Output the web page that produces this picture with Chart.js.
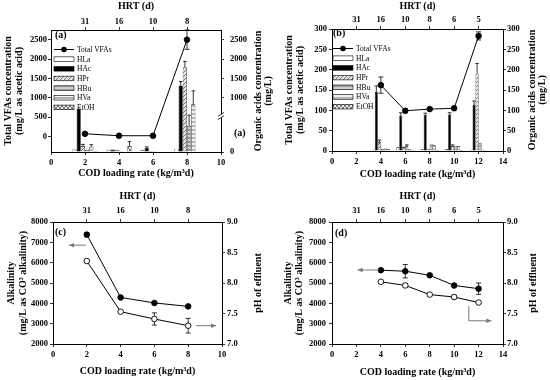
<!DOCTYPE html>
<html>
<head>
<meta charset="utf-8">
<script src="https://cdn.jsdelivr.net/npm/chart.js@4.4.1/dist/chart.umd.min.js"></script>
<style>
    html, body { margin: 0; padding: 0; background: #fff; }
    #fig { position: relative; width: 550px; height: 380px; }
    #fig canvas { position: absolute; }
</style>
</head>
<body>
<div id="fig">
    <canvas id="chartA" width="275" height="190" style="left:0;top:0"></canvas>
    <canvas id="chartB" width="275" height="190" style="left:275px;top:0"></canvas>
    <canvas id="chartC" width="275" height="190" style="left:0;top:190px"></canvas>
    <canvas id="chartD" width="275" height="190" style="left:275px;top:190px"></canvas>
</div>
<script>
// ── Data ──────────────────────────────────────────────────────────────────────

const COD_A = [2, 4, 6, 8];
const COD_B = [4, 6, 8, 10, 12];

const HRT_POS_A = [2, 4, 6, 8];
const HRT_A     = ["31", "16", "10", "8"];
const HRT_POS_B = [2, 4, 6, 8, 10, 12];
const HRT_B     = ["31", "16", "10", "8", "6", "5"];

const BAR_NAMES = ["HLa", "HAc", "HPr", "HBu", "HVa", "EtOH"];

// (a) total VFAs (left axis) and organic acids (broken right axis), mg/L
const VFA_A      = [70, 20, 20, 2500];
const VFA_A_ERR  = [0, 0, 0, 250];
const HLA_A      = [45, 40, 30, 60];
const HAC_A      = [800, 45, 75, 1320];
const HAC_A_ERR  = [0, 0, 20, 100];
const HPR_A      = [110, 40, 20, 1780];
const HPR_A_ERR  = [30, 0, 0, 160];
const HBU_A      = [40, 15, 15, 480];
const HBU_A_ERR  = [0, 0, 0, 200];
const HVA_A      = [95, 10, 10, 880];
const HVA_A_ERR  = [40, 0, 0, 300];
const ETOH_A     = [20, 110, 10, 10];
const ETOH_A_ERR = [0, 80, 0, 0];

// (b)
const VFA_B      = [162, 99, 103, 105, 283];
const VFA_B_ERR  = [20, 5, 3, 3, 10];
const HLA_B      = [3, 9, 4, 4, 3];
const HAC_B      = [145, 87, 89, 90, 113];
const HAC_B_ERR  = [15, 7, 4, 4, 10];
const HPR_B      = [22, 7, 5, 12, 190];
const HPR_B_ERR  = [5, 2, 0, 3, 25];
const HBU_B      = [5, 12, 18, 13, 20];
const HBU_B_ERR  = [0, 3, 0, 0, 0];
const HVA_B      = [6, 5, 14, 12, 3];
const ETOH_B     = [4, 3, 3, 3, 2];

// (c) alkalinity (mg/L) and effluent pH
const ALK_C     = [7380, 4290, 4020, 3850];
const ALK_C_ERR = [100, 60, 40, 60];
const PH_C      = [8.36, 7.53, 7.41, 7.30];
const PH_C_ERR  = [0.02, 0.02, 0.1, 0.12];

// (d)
const ALK_D     = [5630, 5580, 5380, 4880, 4720];
const ALK_D_ERR = [60, 330, 60, 60, 280];
const PH_D      = [8.02, 7.96, 7.81, 7.77, 7.68];
const PH_D_ERR  = [0.02, 0.03, 0.02, 0.03, 0.02];

// Tick values
const TICKS_X_A   = [0, 2, 4, 6, 8, 10];
const TICKS_X_B   = [0, 2, 4, 6, 8, 10, 12, 14];
const TICKS_VFA_A = [0, 500, 1000, 1500, 2000, 2500];
const TICKS_ORG_A = [0, 1000, 1500, 2000, 2500];
const TICKS_VFA_B = [0, 50, 100, 150, 200, 250, 300];
const TICKS_ALK   = [2000, 3000, 4000, 5000, 6000, 7000, 8000];
const TICKS_PH    = [7.0, 7.5, 8.0, 8.5, 9.0];

;(function () {

    // ── Constants ─────────────────────────────────────────────────────────────

    const SERIF      = "'Liberation Serif', 'Times New Roman', serif";
    const TICK_FONT  = { family: SERIF, size: 8.5, weight: "bold", lineHeight: 1.2 };
    const TITLE_FONT = { family: SERIF, size: 10, weight: "bold", lineHeight: 1.15 };
    const X_TITLE    = "COD loading rate (kg/m³d)";

    Chart.defaults.font.family = SERIF;
    Chart.defaults.color = "#000";

    // right axis of (a) is broken at 1000: compressed below, 1:1 with left axis above
    function brk(v) {
        return v >= 1000 ? v + 400 : 1.4 * v;
    }

    function hatch(bg, draw) {
        const c = document.createElement("canvas");
        c.width = c.height = 4;
        const g = c.getContext("2d");
        g.fillStyle = bg;
        g.fillRect(0, 0, 4, 4);
        g.strokeStyle = "#444";
        g.lineWidth = 0.7;
        g.beginPath();
        draw(g);
        g.stroke();
        return g.createPattern(c, "repeat");
    }

    const DIAG  = g => { g.moveTo(0, 4); g.lineTo(4, 0); };
    const HORIZ = g => { g.moveTo(0, 2); g.lineTo(4, 2); };
    const CROSS = g => { g.moveTo(0, 4); g.lineTo(4, 0); g.moveTo(0, 0); g.lineTo(4, 4); };

    const BAR_FILL = [
        "#ffffff",
        "#000000",
        hatch("#e6e6e6", DIAG),
        hatch("#cfcfcf", HORIZ),
        hatch("#f2f2f2", HORIZ),
        hatch("#ececec", CROSS)
    ];

    function getEl(id) {
        return document.getElementById(id);
    }

    function fontStr(f) {
        return `${f.weight || "normal"} ${f.size}px ${f.family}`;
    }

    // ── Scales ────────────────────────────────────────────────────────────────

    function axis(o) {
        return {
            type: "linear",
            position: o.pos,
            min: o.min,
            max: o.max,
            offset: false,
            grid: { drawOnChartArea: false, offset: false, tickLength: 3, color: "#000", lineWidth: 0.8 },
            border: { display: true, color: "#000", width: 1 },
            ticks: {
                color: "#000",
                font: TICK_FONT,
                padding: o.pad,
                autoSkip: false,
                maxRotation: 0,
                callback: o.label || (v => String(v))
            },
            title: o.title
                ? { display: true, text: o.title, color: "#000", font: TITLE_FONT, padding: o.titlePad }
                : { display: false },
            afterBuildTicks: s => { s.ticks = o.ticks.map(v => ({ value: v })); },
            afterFit: s => {
                if (s.isHorizontal()) s.height = o.size;
                else s.width = o.size;
            }
        };
    }

    function baseOptions(scales) {
        return {
            responsive: false,
            animation: false,
            devicePixelRatio: 1,
            events: [],
            layout: { padding: 0 },
            plugins: { legend: { display: false }, tooltip: { enabled: false } },
            scales
        };
    }

    // ── Datasets ──────────────────────────────────────────────────────────────

    function pointSet(label, xs, ys, err, yAxisID, fill) {
        return {
            type: "line",
            label,
            data: xs.map((x, i) => ({ x, y: ys[i] })),
            raw: ys,
            err,
            errBoth: true,
            yAxisID,
            borderColor: "#000",
            borderWidth: 1,
            backgroundColor: fill,
            pointBackgroundColor: fill,
            pointBorderColor: "#000",
            pointBorderWidth: 0.9,
            pointRadius: 2.8,
            fill: false,
            tension: 0,
            order: 0
        };
    }

    function barSets(xs, series, errs, yAxisID, map) {
        return series.map((vals, k) => ({
            type: "bar",
            label: BAR_NAMES[k],
            data: xs.map((x, i) => ({ x, y: map(vals[i]) })),
            raw: vals,
            err: errs[k],
            errMap: map,
            yAxisID,
            backgroundColor: BAR_FILL[k],
            borderColor: "#000",
            borderWidth: 0.6,
            barPercentage: 1,
            categoryPercentage: 0.74,
            order: 1
        }));
    }

    // ── Plugins ───────────────────────────────────────────────────────────────

    const errorBars = {
        id: "errorBars",
        beforeDatasetsDraw(chart) {
            const ctx = chart.ctx;
            ctx.save();
            ctx.strokeStyle = "#000";
            ctx.lineWidth = 0.8;
            chart.data.datasets.forEach((ds, i) => {
                if (!ds.err) return;
                const meta  = chart.getDatasetMeta(i);
                const scale = chart.scales[meta.yAxisID];
                const map   = ds.errMap || (v => v);
                meta.data.forEach((el, j) => {
                    const e = ds.err[j];
                    if (!e) return;
                    const v   = ds.raw[j];
                    const hi  = scale.getPixelForValue(map(v + e));
                    const lo  = ds.errBoth ? scale.getPixelForValue(map(Math.max(v - e, 0))) : el.y;
                    const cap = ds.errBoth ? 2.5 : 1.8;
                    ctx.beginPath();
                    ctx.moveTo(el.x, lo);
                    ctx.lineTo(el.x, hi);
                    ctx.moveTo(el.x - cap, hi);
                    ctx.lineTo(el.x + cap, hi);
                    if (ds.errBoth) {
                        ctx.moveTo(el.x - cap, lo);
                        ctx.lineTo(el.x + cap, lo);
                    }
                    ctx.stroke();
                });
            });
            ctx.restore();
        }
    };

    function drawLegend(chart, lg) {
        const ctx = chart.ctx;
        chart.data.datasets.forEach((ds, i) => {
            const y  = lg.y + i * lg.dy;
            const x0 = lg.x;
            const x1 = lg.x + lg.w;
            if (ds.type === "line") {
                ctx.strokeStyle = "#000";
                ctx.lineWidth = 1;
                ctx.beginPath();
                ctx.moveTo(x0, y);
                ctx.lineTo(x1, y);
                ctx.stroke();
                ctx.fillStyle = "#000";
                ctx.beginPath();
                ctx.arc((x0 + x1) / 2, y, 2.8, 0, Math.PI * 2);
                ctx.fill();
            } else {
                ctx.fillStyle = ds.backgroundColor;
                ctx.fillRect(x0, y - 2.3, lg.w, 4.6);
                ctx.strokeStyle = "#000";
                ctx.lineWidth = 0.6;
                ctx.strokeRect(x0, y - 2.3, lg.w, 4.6);
            }
            ctx.fillStyle = "#000";
            ctx.font = `7.5px ${SERIF}`;
            ctx.textAlign = "left";
            ctx.textBaseline = "middle";
            ctx.fillText(ds.label, x1 + 3, y + 0.5);
        });
    }

    function drawArrow(chart, a) {
        const ctx = chart.ctx;
        const xs  = chart.scales.x;
        const ys  = chart.scales[a.axis];
        const pts = a.pts.map(([x, y]) => [xs.getPixelForValue(x), ys.getPixelForValue(y)]);
        ctx.strokeStyle = "#777";
        ctx.fillStyle = "#777";
        ctx.lineWidth = 1;
        ctx.beginPath();
        pts.forEach(([x, y], i) => (i ? ctx.lineTo(x, y) : ctx.moveTo(x, y)));
        ctx.stroke();
        const [x1, y1] = pts[pts.length - 2];
        const [x2, y2] = pts[pts.length - 1];
        const ang = Math.atan2(y2 - y1, x2 - x1);
        ctx.beginPath();
        ctx.moveTo(x2, y2);
        ctx.lineTo(x2 - 5 * Math.cos(ang) + 2.2 * Math.sin(ang), y2 - 5 * Math.sin(ang) - 2.2 * Math.cos(ang));
        ctx.lineTo(x2 - 5 * Math.cos(ang) - 2.2 * Math.sin(ang), y2 - 5 * Math.sin(ang) + 2.2 * Math.cos(ang));
        ctx.closePath();
        ctx.fill();
    }

    function drawBreak(chart, v) {
        const ctx = chart.ctx;
        const x = chart.chartArea.right;
        const y = chart.scales.y1.getPixelForValue(v);
        ctx.fillStyle = "#fff";
        ctx.fillRect(x - 1.5, y - 1.5, 3, 3);
        ctx.strokeStyle = "#000";
        ctx.lineWidth = 0.8;
        [-1.6, 1.6].forEach(d => {
            ctx.beginPath();
            ctx.moveTo(x - 3, y + d + 2);
            ctx.lineTo(x + 3, y + d - 2);
            ctx.stroke();
        });
    }

    function deco(o) {
        return {
            id: "deco",
            afterDraw(chart) {
                const ctx = chart.ctx;
                const a   = chart.chartArea;
                ctx.save();

                (o.texts || []).forEach(t => {
                    ctx.fillStyle = "#000";
                    ctx.font = fontStr(TITLE_FONT);
                    ctx.textAlign = "left";
                    ctx.textBaseline = "middle";
                    ctx.fillText(t.text, t.x, t.y);
                });

                if (o.rightTitle) {
                    const mid = (a.top + a.bottom) / 2;
                    ctx.fillStyle = "#000";
                    ctx.font = fontStr(TITLE_FONT);
                    ctx.textAlign = "center";
                    ctx.textBaseline = "middle";
                    o.rightTitle.lines.forEach((line, i) => {
                        ctx.save();
                        ctx.translate(o.rightTitle.x[i], mid);
                        ctx.rotate(-Math.PI / 2);
                        ctx.fillText(line, 0, 0);
                        ctx.restore();
                    });
                }

                if (o.legend) drawLegend(chart, o.legend);
                (o.arrows || []).forEach(ar => drawArrow(chart, ar));
                if (o.breakAt != null) drawBreak(chart, o.breakAt);

                ctx.restore();
            }
        };
    }

    // ── Charts ────────────────────────────────────────────────────────────────

    function renderA() {
        new Chart(getEl("chartA"), {
            type: "bar",
            data: {
                datasets: [
                    pointSet("Total VFAs", COD_A, VFA_A, VFA_A_ERR, "y", "#000"),
                    ...barSets(
                        COD_A,
                        [HLA_A, HAC_A, HPR_A, HBU_A, HVA_A, ETOH_A],
                        [null, HAC_A_ERR, HPR_A_ERR, HBU_A_ERR, HVA_A_ERR, ETOH_A_ERR],
                        "y1",
                        brk
                    )
                ]
            },
            options: baseOptions({
                x:  axis({ pos: "bottom", min: 0, max: 10, ticks: TICKS_X_A, size: 38, pad: 3, title: X_TITLE, titlePad: 11 }),
                x2: axis({ pos: "top", min: 0, max: 10, ticks: HRT_POS_A, label: (v, i) => HRT_A[i], size: 30, pad: 0, title: "HRT (d)", titlePad: 1 }),
                y:  axis({ pos: "left", min: -400, max: 2750, ticks: TICKS_VFA_A, size: 51, pad: 1,
                           title: ["Total VFAs concentration", "(mg/L as acetic acid)"], titlePad: 2.2 }),
                y1: axis({ pos: "right", min: 0, max: 3150, ticks: TICKS_ORG_A.map(brk), label: (v, i) => String(TICKS_ORG_A[i]), size: 54, pad: 6 })
            }),
            plugins: [errorBars, deco({
                texts: [{ text: "(a)", x: 55, y: 35 }, { text: "(a)", x: 234, y: 133 }],
                rightTitle: { lines: ["Organic acids concentration", "(mg/L)"], x: [258, 268] },
                legend: { x: 54, y: 49.5, dy: 9.65, w: 20 },
                breakAt: 930
            })]
        });
    }

    function renderB() {
        new Chart(getEl("chartB"), {
            type: "bar",
            data: {
                datasets: [
                    pointSet("Total VFAs", COD_B, VFA_B, VFA_B_ERR, "y", "#000"),
                    ...barSets(
                        COD_B,
                        [HLA_B, HAC_B, HPR_B, HBU_B, HVA_B, ETOH_B],
                        [null, HAC_B_ERR, HPR_B_ERR, HBU_B_ERR, null, null],
                        "y",
                        v => v
                    )
                ]
            },
            options: baseOptions({
                x:  axis({ pos: "bottom", min: 0, max: 14, ticks: TICKS_X_B, size: 39, pad: 3, title: X_TITLE, titlePad: 9.5 }),
                x2: axis({ pos: "top", min: 0, max: 14, ticks: HRT_POS_B, label: (v, i) => HRT_B[i], size: 29, pad: 1, title: "HRT (d)", titlePad: 1 }),
                y:  axis({ pos: "left", min: 0, max: 300, ticks: TICKS_VFA_B, size: 57, pad: 2,
                           title: ["Total VFAs concentration", "(mg/L as acetic acid)"], titlePad: 8.2 }),
                y1: axis({ pos: "right", min: 0, max: 300, ticks: TICKS_VFA_B, size: 47, pad: 1 })
            }),
            plugins: [errorBars, deco({
                texts: [{ text: "(b)", x: 58, y: 33.5 }],
                rightTitle: { lines: ["Organic acids concentration", "(mg/L)"], x: [257, 267] },
                legend: { x: 58, y: 48.5, dy: 9.7, w: 20 }
            })]
        });
    }

    function renderC() {
        new Chart(getEl("chartC"), {
            type: "line",
            data: {
                datasets: [
                    pointSet("Alkalinity", COD_A, ALK_C, ALK_C_ERR, "y", "#000"),
                    pointSet("pH", COD_A, PH_C, PH_C_ERR, "y1", "#fff")
                ]
            },
            options: baseOptions({
                x:  axis({ pos: "bottom", min: 0, max: 10, ticks: TICKS_X_A, size: 36, pad: 3, title: X_TITLE, titlePad: 3 }),
                x2: axis({ pos: "top", min: 0, max: 10, ticks: HRT_POS_A, label: (v, i) => HRT_A[i], size: 32, pad: 3, title: "HRT (d)", titlePad: 1 }),
                y:  axis({ pos: "left", min: 2000, max: 8000, ticks: TICKS_ALK, size: 53, pad: 2,
                           title: ["Alkalinity", "(mg/L as CO³ alkalinity)"], titlePad: 6 }),
                y1: axis({ pos: "right", min: 7, max: 9, ticks: TICKS_PH, label: v => v.toFixed(1), size: 53, pad: 2 })
            }),
            plugins: [errorBars, deco({
                texts: [{ text: "(c)", x: 55, y: 42 }],
                rightTitle: { lines: ["pH of effluent"], x: [258] },
                arrows: [
                    { axis: "y",  pts: [[1.95, 6860], [0.95, 6860]] },
                    { axis: "y1", pts: [[8.45, 7.30], [9.65, 7.30]] }
                ]
            })]
        });
    }

    function renderD() {
        new Chart(getEl("chartD"), {
            type: "line",
            data: {
                datasets: [
                    pointSet("Alkalinity", COD_B, ALK_D, ALK_D_ERR, "y", "#000"),
                    pointSet("pH", COD_B, PH_D, PH_D_ERR, "y1", "#fff")
                ]
            },
            options: baseOptions({
                x:  axis({ pos: "bottom", min: 0, max: 14, ticks: TICKS_X_B, size: 36, pad: 3, title: X_TITLE, titlePad: 2 }),
                x2: axis({ pos: "top", min: 0, max: 14, ticks: HRT_POS_B, label: (v, i) => HRT_B[i], size: 32, pad: 3, title: "HRT (d)", titlePad: 1 }),
                y:  axis({ pos: "left", min: 2000, max: 8000, ticks: TICKS_ALK, size: 57, pad: 3,
                           title: ["Alkalinity", "(mg/L as CO³ alkalinity)"], titlePad: 7.5 }),
                y1: axis({ pos: "right", min: 7, max: 9, ticks: TICKS_PH, label: v => v.toFixed(1), size: 47, pad: 1 })
            }),
            plugins: [errorBars, deco({
                texts: [{ text: "(d)", x: 60, y: 43 }],
                rightTitle: { lines: ["pH of effluent"], x: [258] },
                arrows: [
                    { axis: "y",  pts: [[3.85, 5640], [2.1, 5640]] },
                    { axis: "y1", pts: [[11.2, 7.62], [11.2, 7.38], [13.05, 7.38]] }
                ]
            })]
        });
    }

    renderA();
    renderB();
    renderC();
    renderD();

})();
</script>
</body>
</html>
